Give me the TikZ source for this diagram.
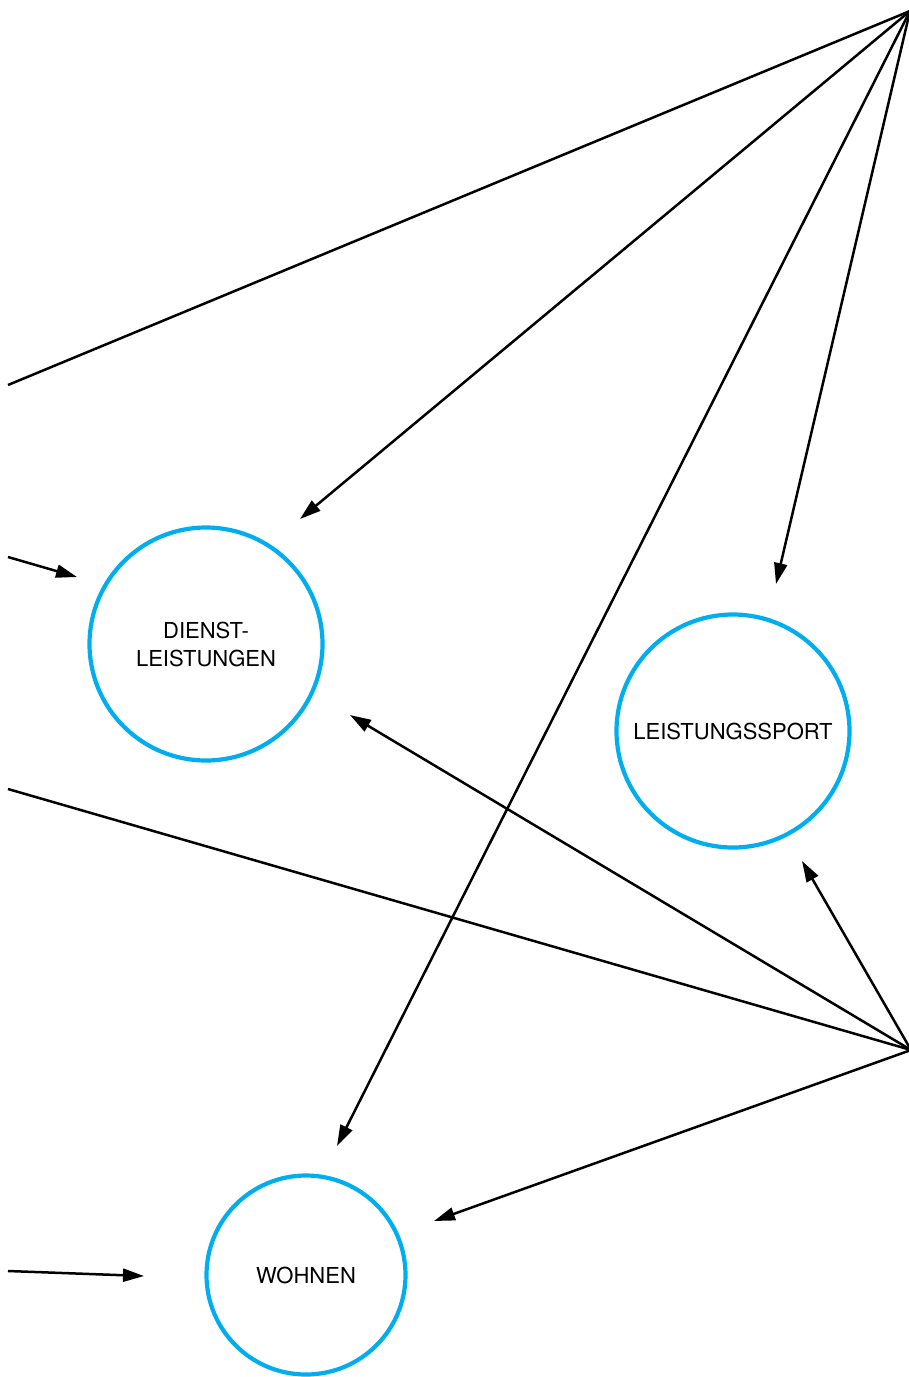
\documentclass[tikz,border=0pt]{standalone}
\usepackage{fontspec}
\setmainfont{TeX Gyre Heros}
\usetikzlibrary{arrows.meta}
\definecolor{cblue}{RGB}{0,174,239}
\begin{document}
\begin{tikzpicture}[x=1pt,y=-1pt,
  circ/.style={circle, draw=cblue, line width=4.2pt, inner sep=0pt, align=center,
    font=\fontsize{22}{28}\selectfont},
  conn/.style={line width=2.5pt, black},
  arr/.style={conn, -{Triangle[length=21pt,width=13pt]}}]
\useasboundingbox (0,0) rectangle (909,1377);
% circles
\node[circ, minimum size=233pt] (dl) at (206,644) {DIENST-\\LEISTUNGEN};
\node[circ, minimum size=233pt] (ls) at (733,731) {LEISTUNGSSPORT};
\node[circ, minimum size=199pt] (wo) at (306,1275) {WOHNEN};
% hubs and free ends
\coordinate (hubA) at (910,11);
\coordinate (hubB) at (911,1050);
\coordinate (lA) at (8,385);
\coordinate (lB) at (8,557);
\coordinate (lC) at (8,789);
\coordinate (lD) at (8,1271);
% arrow tips
\coordinate (tDLa) at (300,519);
\coordinate (tDLb) at (77,577);
\coordinate (tDLc) at (350,715);
\coordinate (tLSa) at (776,584);
\coordinate (tLSb) at (802,861);
\coordinate (tWOa) at (337,1146);
\coordinate (tWOb) at (434,1221);
\coordinate (tWOc) at (144,1276);
% connectors
\draw[conn] (lA) -- (hubA);
\draw[arr] (hubA) -- (tDLa);
\draw[arr] (hubA) -- (tWOa);
\draw[arr] (hubA) -- (tLSa);
\draw[arr] (lB) -- (tDLb);
\draw[conn] (lC) -- (hubB);
\draw[arr] (hubB) -- (tDLc);
\draw[arr] (hubB) -- (tLSb);
\draw[arr] (hubB) -- (tWOb);
\draw[arr] (lD) -- (tWOc);
\end{tikzpicture}
\end{document}
